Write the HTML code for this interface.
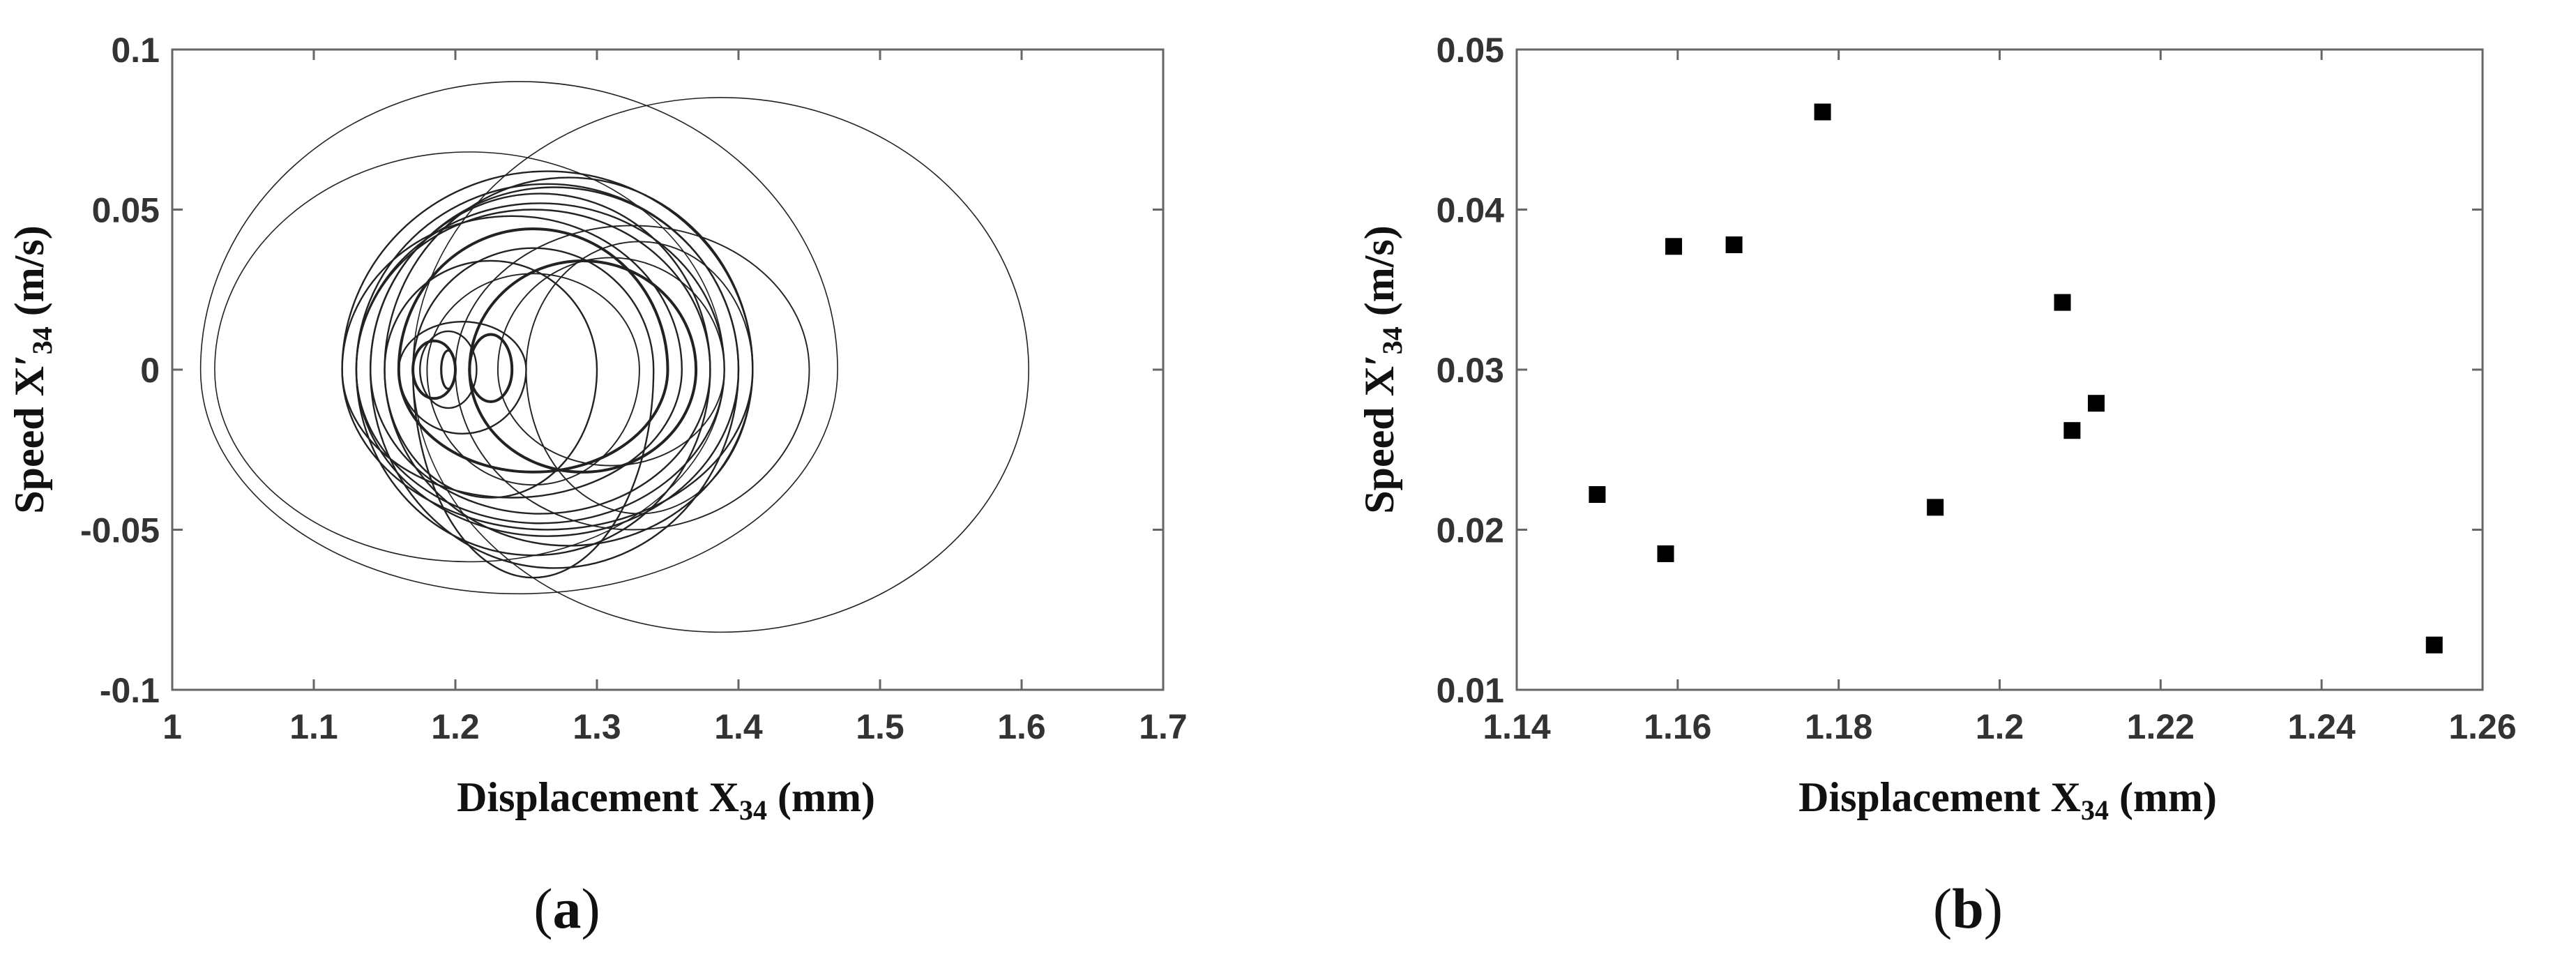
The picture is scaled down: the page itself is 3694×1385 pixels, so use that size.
<!DOCTYPE html>
<html><head><meta charset="utf-8"><style>
html,body{margin:0;padding:0;background:#fff;}
svg{display:block;}
.tick{font-family:"Liberation Sans",sans-serif;font-weight:bold;font-size:50px;fill:#333;}
.ttl{font-family:"Liberation Serif",serif;font-weight:bold;font-size:60px;fill:#111;}
.cap{font-family:"Liberation Serif",serif;font-size:82px;fill:#111;}
</style></head><body>
<svg id="fig" width="3694" height="1385" viewBox="0 0 3694 1385" xmlns="http://www.w3.org/2000/svg">
<g id="pa"></g>
<g id="pb"></g>
<text class="cap" x="813" y="1330" text-anchor="middle">(<tspan font-weight="bold">a</tspan>)</text>
<text class="cap" x="2822" y="1330" text-anchor="middle">(<tspan font-weight="bold">b</tspan>)</text>
</svg>
<script>
// Chart (a) data: orbit loops (approximated as ellipses)
const loopXMin = [1.02,1.17,1.03,1.12,1.13,1.14,1.16,1.21,1.15,1.16,1.17,1.21,1.12,1.20,1.15,1.14,1.13,1.25,1.23,1.18,1.19,1.175,1.13,1.17];
const loopXMax = [1.47,1.605,1.39,1.41,1.40,1.38,1.35,1.37,1.30,1.25,1.20,1.24,1.36,1.45,1.41,1.40,1.39,1.41,1.39,1.33,1.20,1.215,1.38,1.34];
const loopYMax = [0.090,0.085,0.068,0.062,0.058,0.055,0.044,0.034,0.034,0.015,0.009,0.011,0.048,0.045,0.060,0.057,0.052,0.040,0.035,0.030,0.006,0.012,0.050,0.038];
const loopYMin = [-0.070,-0.082,-0.060,-0.050,-0.052,-0.045,-0.032,-0.032,-0.040,-0.020,-0.009,-0.010,-0.040,-0.050,-0.055,-0.062,-0.048,-0.045,-0.030,-0.036,-0.006,-0.012,-0.058,-0.065];
const loopWidth = [1,1,1,1.5,1.5,1.5,2.5,2.5,1.5,1.5,2.5,2.5,1.5,1.2,1.5,1.5,1.5,1.2,1.2,1.2,2,1.5,1.5,1.5];
const xTicksA = [1,1.1,1.2,1.3,1.4,1.5,1.6,1.7];
const xTickLabelsA = ["1","1.1","1.2","1.3","1.4","1.5","1.6","1.7"];
const yTicksA = [-0.1,-0.05,0,0.05,0.1];
const yTickLabelsA = ["-0.1","-0.05","0","0.05","0.1"];
// Chart (b) data
const ptX = [1.150,1.1585,1.1595,1.167,1.178,1.192,1.2078,1.209,1.212,1.254];
const ptY = [0.0222,0.0185,0.0377,0.0378,0.0461,0.0214,0.0342,0.0262,0.0279,0.0128];
const xTicksB = [1.14,1.16,1.18,1.2,1.22,1.24,1.26];
const xTickLabelsB = ["1.14","1.16","1.18","1.2","1.22","1.24","1.26"];
const yTicksB = [0.01,0.02,0.03,0.04,0.05];
const yTickLabelsB = ["0.01","0.02","0.03","0.04","0.05"];

const NS="http://www.w3.org/2000/svg";
function mk(tag,attrs,parent){const e=document.createElementNS(NS,tag);for(const k in attrs)e.setAttribute(k,attrs[k]);parent.appendChild(e);return e;}

function axes(g,L,R,T,B,xd,yd,xt,xl,yt,yl,prefix){
  const sx=v=>L+(v-xd[0])/(xd[1]-xd[0])*(R-L);
  const sy=v=>B-(v-yd[0])/(yd[1]-yd[0])*(B-T);
  const frame=mk('rect',{x:L,y:T,width:R-L,height:B-T,fill:'none',stroke:'#666','stroke-width':3},g);
  
  
  xt.forEach((v,i)=>{
    const x=sx(v);
    mk('line',{x1:x,y1:B,x2:x,y2:B-15,stroke:'#666','stroke-width':3},g);
    mk('line',{x1:x,y1:T,x2:x,y2:T+15,stroke:'#666','stroke-width':3},g);
    const t=mk('text',{x:x,y:B+70,'text-anchor':'middle',class:'tick'},g);
    t.textContent=xl[i];
    
    
  });
  yt.forEach((v,i)=>{
    const y=sy(v);
    mk('line',{x1:L,y1:y,x2:L+15,y2:y,stroke:'#666','stroke-width':3},g);
    mk('line',{x1:R,y1:y,x2:R-15,y2:y,stroke:'#666','stroke-width':3},g);
    const t=mk('text',{x:L-18,y:y+18,'text-anchor':'end',class:'tick'},g);
    t.textContent=yl[i];
    
    
  });
  return {sx,sy};
}
function titles(g,cx,yx,cy,prefix){
  const xt=mk('text',{x:cx,y:1163,'text-anchor':'middle',class:'ttl'},g);
  xt.innerHTML='Displacement X<tspan font-size="40" dy="12">34</tspan><tspan dy="-12"> (mm)</tspan>';
  
  
  const yt=mk('text',{x:0,y:0,'text-anchor':'middle',class:'ttl',transform:`translate(${yx},${cy}) rotate(-90)`},g);
  yt.innerHTML='Speed X\u2032<tspan font-size="40" dy="12">34</tspan><tspan dy="-12"> (m/s)</tspan>';
  
  
}

// Chart A
const ga=document.getElementById('pa');
const A=axes(ga,247,1668,71,989,[1,1.7],[-0.1,0.1],xTicksA,xTickLabelsA,yTicksA,yTickLabelsA,'a');
loopXMin.forEach((x0,i)=>{
  const cx=(A.sx(x0)+A.sx(loopXMax[i]))/2, rx=(A.sx(loopXMax[i])-A.sx(x0))/2;
  const yt=A.sy(loopYMax[i]), yb=A.sy(loopYMin[i]);
  const cy0=A.sy(0);
  const d=`M${cx-rx},${cy0} A${rx},${cy0-yt} 0 0 1 ${cx+rx},${cy0} A${rx},${yb-cy0} 0 0 1 ${cx-rx},${cy0} Z`;
  const p=mk('path',{d:d,fill:'none',stroke:'#222','stroke-width':loopWidth[i]*1.6},ga);
  
  
});
titles(ga,955,62,530,'a');

// Chart B
const gb=document.getElementById('pb');
const B=axes(gb,2175,3560,71,989,[1.14,1.26],[0.01,0.05],xTicksB,xTickLabelsB,yTicksB,yTickLabelsB,'b');
ptX.forEach((x,i)=>{
  const r=mk('rect',{x:B.sx(x)-12,y:B.sy(ptY[i])-12,width:24,height:24,fill:'#000'},gb);
  
  
});
titles(gb,2879,1998,530,'b');
</script>
</body></html>
